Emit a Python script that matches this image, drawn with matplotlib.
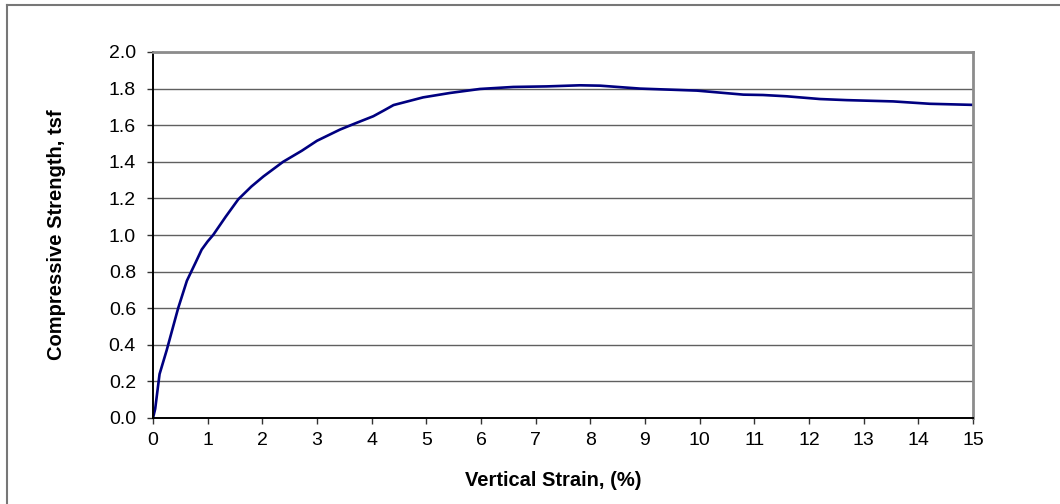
import matplotlib
matplotlib.use("Agg")
import matplotlib.pyplot as plt
from matplotlib.lines import Line2D

strain = [0.0, 0.04, 0.12, 0.25, 0.46, 0.62, 0.78, 0.89, 1.0, 1.10, 1.33, 1.56, 1.8, 2.02, 2.38, 2.72,
          3.0, 3.42, 3.7, 4.03, 4.22, 4.40, 4.94, 5.43, 5.98, 6.59, 7.20, 7.81, 8.18, 8.91,
          9.95, 10.80, 11.16, 11.59, 12.2, 12.69, 13.54, 14.21, 15.0]
strength = [0.0, 0.05, 0.24, 0.37, 0.60, 0.75, 0.85, 0.92, 0.965, 1.00, 1.10, 1.195, 1.265, 1.32, 1.40, 1.46,
            1.515, 1.576, 1.61, 1.649, 1.68, 1.71, 1.752, 1.776, 1.798, 1.809, 1.812, 1.818, 1.816, 1.80,
            1.789, 1.767, 1.765, 1.758, 1.743, 1.737, 1.73, 1.717, 1.711]

x_ticks = list(range(0, 16))
y_ticks = [0.0, 0.2, 0.4, 0.6, 0.8, 1.0, 1.2, 1.4, 1.6, 1.8, 2.0]

plt.rcParams['font.family'] = ['Liberation Sans', 'DejaVu Sans']

fig = plt.figure(figsize=(10.6, 5.04), dpi=100)
ax = fig.add_axes([153/1060, 1-418/504, (973-153)/1060, (418-52)/504])

ax.plot(strain, strength, color='#000080', lw=1.9, solid_joinstyle='round')

ax.set_xlim(0, 15)
ax.set_ylim(0, 2.0)
ax.set_xticks(x_ticks)
ax.set_yticks(y_ticks)
ax.set_yticklabels([f"{v:.1f}" for v in y_ticks])
ax.grid(axis='y', color='#606060', lw=1.0)
ax.set_axisbelow(True)

for s in ['top', 'right']:
    ax.spines[s].set_color('#8c8c8c')
    ax.spines[s].set_linewidth(2.0)
for s in ['left', 'bottom']:
    ax.spines[s].set_color('black')
    ax.spines[s].set_linewidth(1.4)

ax.tick_params(axis='both', direction='out', length=4.3, width=1.0, color='#333333',
               labelsize=14)
ax.tick_params(axis='y', pad=8)
ax.tick_params(axis='x', pad=6)

ax.set_xlabel('Vertical Strain, (%)', fontsize=14.5, fontweight='bold', va='center')
ax.xaxis.set_label_coords((553-153)/820, (418-480)/366)
ax.set_ylabel('Compressive Strength, tsf', fontsize=14.5, fontweight='bold', va='center')
ax.yaxis.set_label_coords((57-153)/820, 0.5)

fig.add_artist(Line2D([7/1060, 7/1060], [0, 1-5/504], transform=fig.transFigure,
                      color='#777777', lw=1.5))
fig.add_artist(Line2D([7/1060, 1], [1-5/504, 1-5/504], transform=fig.transFigure,
                      color='#777777', lw=1.5))

fig.savefig('out.png', dpi=100)
